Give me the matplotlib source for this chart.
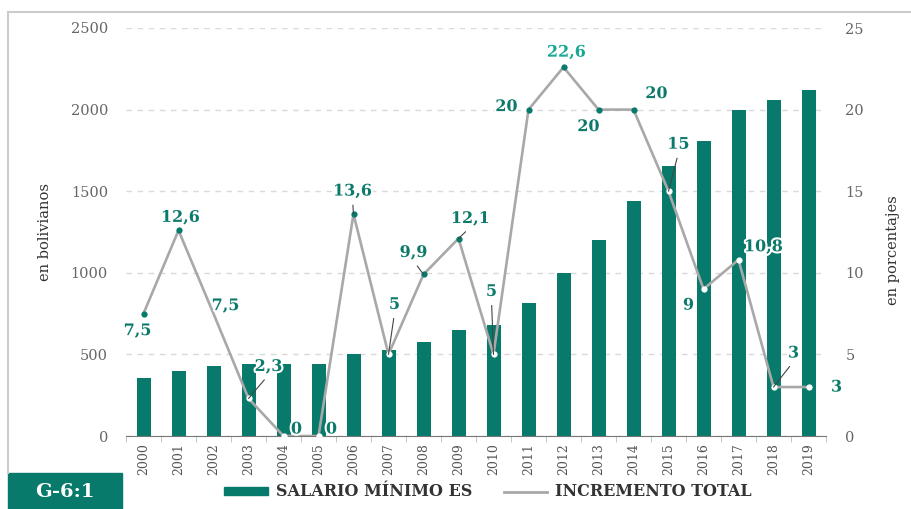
import matplotlib
matplotlib.use("Agg")
import matplotlib.pyplot as plt
import matplotlib.patheffects as pe
from matplotlib.patches import Patch, Rectangle
from matplotlib.lines import Line2D
import numpy as np

plt.rcParams["font.family"] = ["DejaVu Serif"]

years = ["2000", "2001", "2002", "2003", "2004", "2005", "2006", "2007", "2008", "2009",
         "2010", "2011", "2012", "2013", "2014", "2015", "2016", "2017", "2018", "2019"]
salario = [355, 400, 430, 440, 440, 440, 500, 525, 577.5, 647,
           679.5, 815.4, 1000, 1200, 1440, 1656, 1805, 2000, 2060, 2122]
incremento = [7.5, 12.6, 7.5, 2.3, 0, 0, 13.6, 5, 9.9, 12.1,
              5, 20, 22.6, 20, 20, 15, 9, 10.8, 3, 3]
labels = ["7,5", "12,6", "7,5", "2,3", "0", "0", "13,6", "5", "9,9", "12,1",
          "5", "20", "22,6", "20", "20", "15", "9", "10,8", "3", "3"]

TEAL = "#077a6b"
GRAY_LINE = "#a8a8a8"

# label placement (pixel offsets from point), leader line yes/no
label_offsets = [(-6, -17), (2, 13), (12, 8), (20, 32), (13, 7), (13, 7), (-1, 23), (6, 50),
                 (-10, 22), (12, 20), (-2, 63), (-22, 3), (3, 15), (-10, -17), (23, 16),
                 (10, 47), (-15, -16), (25, 13), (20, 34), (28, 0)]
leaders = [False, False, False, True, False, False, True, True, True, True,
           True, False, False, False, False, True, False, False, True, False]
marker_fill = [TEAL, TEAL, "none", "white", "white", "white", TEAL, "white", TEAL, TEAL,
               "white", TEAL, TEAL, TEAL, TEAL, "white", "white", "white", "white", "white"]

fig = plt.figure(figsize=(9.12, 5.09), dpi=100)
ax = fig.add_axes([126 / 912, 1 - 436 / 509, 700 / 912, 408 / 509])
ax2 = ax.twinx()

x = np.arange(len(years))
ax.bar(x, salario, width=0.4, color=TEAL, zorder=2)
ax.set_xlim(-0.5, len(years) - 0.5)
ax.set_ylim(0, 2500)
ax.set_yticks(np.arange(0, 2501, 500))
ax.set_axisbelow(True)
ax.yaxis.grid(True, color="#d9d9d9", linestyle=(0, (4, 4)), linewidth=1)
ax.set_xticks(x)
ax.set_xticklabels(years, rotation=90, fontsize=9, color="#555555")
ax.set_xticks(np.arange(-0.5, len(years), 1), minor=True)
ax.tick_params(axis="x", which="major", length=0, pad=5)
ax.tick_params(axis="x", which="minor", length=4, color="#bbbbbb")
ax.tick_params(axis="y", length=0, pad=13, labelsize=10.5, labelcolor="#666666")
for s in ["top", "right", "left"]:
    ax.spines[s].set_visible(False)
ax.spines["bottom"].set_color("#777777")

ax2.plot(x, incremento, color=GRAY_LINE, linewidth=1.9, zorder=3)
for i in range(len(years)):
    if marker_fill[i] != "none":
        ax2.plot(x[i], incremento[i], "o", markersize=4.5, markerfacecolor=marker_fill[i],
                 markeredgewidth=0, zorder=4)
ax2.set_ylim(0, 25)
ax2.set_yticks(np.arange(0, 26, 5))
ax2.tick_params(axis="y", length=0, pad=14, labelsize=10.5, labelcolor="#666666")
for s in ["top", "right", "left", "bottom"]:
    ax2.spines[s].set_visible(False)

outline = [pe.withStroke(linewidth=3, foreground="white")]
for i, lab in enumerate(labels):
    dx, dy = label_offsets[i]
    color = "#17a894" if lab == "22,6" else "#0b7a6a"
    kw = {}
    if leaders[i]:
        kw["arrowprops"] = dict(arrowstyle="-", color="#444444", lw=0.8,
                                shrinkA=2, shrinkB=0, relpos=(0.5, 0))
    ax2.annotate(lab, (x[i], incremento[i]), xytext=(dx, dy), textcoords="offset pixels",
                 ha="center", va="center", fontsize=11.5, fontweight="bold", color=color,
                 path_effects=outline, zorder=6, **kw)

fig.text(45 / 912, 1 - 232 / 509, "en bolivianos", rotation=90, ha="center", va="center",
         fontsize=10.5, color="#333333")
fig.text(893 / 912, 1 - 250 / 509, "en porcentajes", rotation=90, ha="center", va="center",
         fontsize=10.5, color="#333333")

# frame lines and label box
fig.add_artist(Line2D([8 / 912, 1], [1 - 12 / 509] * 2, color="#cccccc", lw=1.5,
                      transform=fig.transFigure))
fig.add_artist(Line2D([8 / 912] * 2, [1 - 12 / 509, 1 - 473 / 509], color="#cccccc", lw=1.5,
                      transform=fig.transFigure))
fig.add_artist(Rectangle((8 / 912, 0), 114 / 912, 36 / 509, color=TEAL,
                         transform=fig.transFigure))
fig.text(65 / 912, 1 - 492 / 509, "G-6:1", ha="center", va="center", fontsize=14,
         fontweight="bold", color="white")

handles = [Patch(color=TEAL), Line2D([0], [0], color=GRAY_LINE, lw=2)]
fig.legend(handles, ["SALARIO MÍNIMO ES", "INCREMENTO TOTAL"], loc="center",
           bbox_to_anchor=(488 / 912, 1 - 492 / 509), ncol=2, frameon=False,
           prop={"family": "DejaVu Serif", "weight": "bold", "size": 11.5},
           labelcolor="#333333", handlelength=2.7, handleheight=0.45, columnspacing=2.0,
           handletextpad=0.5)

fig.savefig("out.png", dpi=100)
